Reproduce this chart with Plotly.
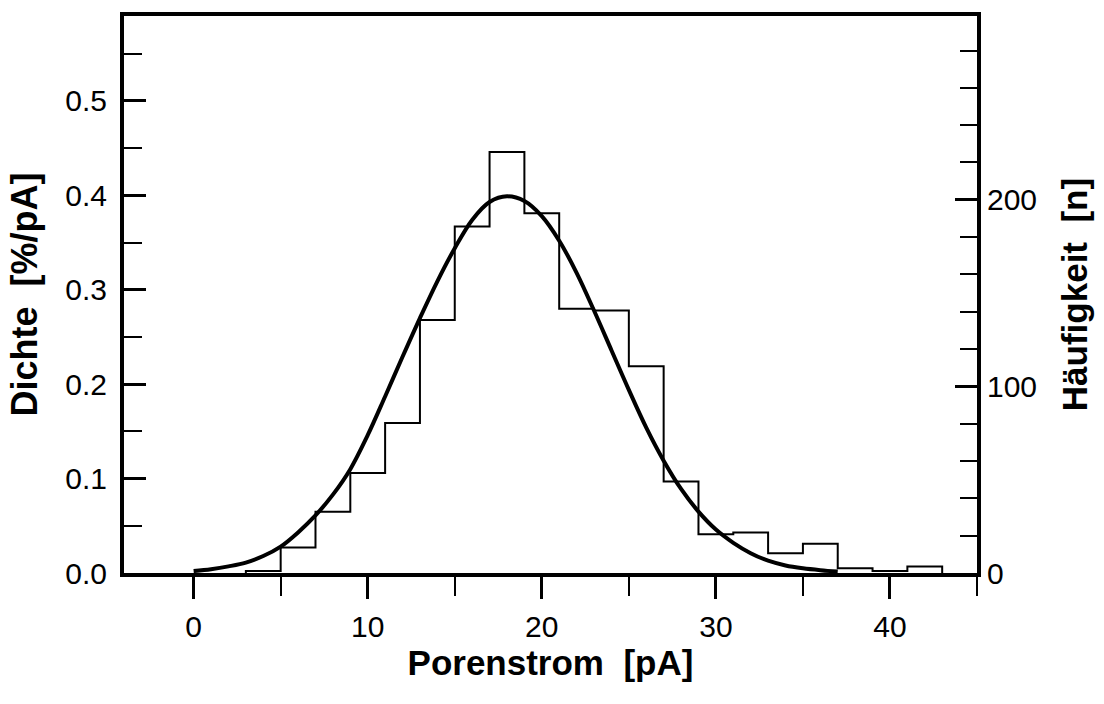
import plotly.graph_objects as go

# Histogram (density, %/pA), bins of width 2 pA
bin_edges = [3, 5, 7, 9, 11, 13, 15, 17, 19, 21, 23, 25, 27, 29, 31, 33, 35, 37, 39, 41, 43]
bin_density = [0.002, 0.027, 0.065, 0.106, 0.159, 0.268, 0.367, 0.446, 0.381, 0.280,
               0.278, 0.219, 0.097, 0.041, 0.043, 0.021, 0.031, 0.005, 0.002, 0.007]

# Fitted density curve
curve_x = [0, 1, 2, 3, 4, 5, 6, 7, 8, 9, 10, 11, 12, 13, 14, 15, 16, 17, 18, 19,
           20, 21, 22, 23, 24, 25, 26, 27, 28, 29, 30, 31, 32, 33, 34, 35, 36, 37]
curve_y = [0.002, 0.004, 0.007, 0.011, 0.018, 0.028, 0.043, 0.061, 0.083, 0.110,
           0.146, 0.187, 0.229, 0.270, 0.309, 0.344, 0.374, 0.393, 0.399, 0.394,
           0.378, 0.352, 0.318, 0.278, 0.236, 0.194, 0.154, 0.119, 0.089, 0.065,
           0.046, 0.032, 0.021, 0.013, 0.008, 0.005, 0.003, 0.0015]

x_ticks = [0, 10, 20, 30, 40]
y_ticks = [0.0, 0.1, 0.2, 0.3, 0.4, 0.5]
y2_ticks = [0, 100, 200]

# step outline
step_x = [bin_edges[0]] + bin_edges
step_y = [0] + bin_density + [0]

FONT = "Arial, Liberation Sans, sans-serif"

fig = go.Figure()
fig.add_trace(go.Scatter(x=step_x, y=step_y, mode="lines", line=dict(shape="hv", color="black", width=2),
                         showlegend=False, hoverinfo="skip"))
fig.add_trace(go.Scatter(x=curve_x, y=curve_y, mode="lines",
                         line=dict(shape="spline", smoothing=1.0, color="black", width=4),
                         showlegend=False, hoverinfo="skip"))
# empty trace so the right-hand count axis is drawn
fig.add_trace(go.Scatter(x=[None], y=[None], yaxis="y2", mode="lines", showlegend=False, hoverinfo="skip"))

fig.update_layout(
    width=1104, height=704,
    margin=dict(l=124, r=127, t=13, b=131),
    paper_bgcolor="white", plot_bgcolor="white",
    font=dict(family=FONT, color="black", size=30),
    xaxis=dict(
        range=[-4, 45], tickvals=x_ticks, ticks="outside", ticklen=22, tickwidth=3,
        tickcolor="black", showline=True, linewidth=4, linecolor="black", mirror=True,
        showgrid=False, zeroline=False, ticklabelstandoff=2,
        minor=dict(dtick=5, tick0=0, ticks="outside", ticklen=19, tickwidth=2, tickcolor="black"),
        title=dict(text="<b>Porenstrom  [pA]</b>", font=dict(size=35), standoff=8),
    ),
    yaxis=dict(
        range=[0, 0.59], tickvals=y_ticks, tickformat=".1f", ticks="inside", ticklen=22, tickwidth=3,
        tickcolor="black", showline=True, linewidth=4, linecolor="black",
        showgrid=False, zeroline=False, ticklabelstandoff=7,
        minor=dict(dtick=0.05, tick0=0, ticks="inside", ticklen=18, tickwidth=2, tickcolor="black"),
        title=dict(text="<b>Dichte  [%/pA]</b>", font=dict(size=36), standoff=18),
    ),
    yaxis2=dict(
        range=[0, 298.5], tickvals=y2_ticks, overlaying="y", side="right", anchor="x",
        ticks="inside", ticklen=22, tickwidth=3, tickcolor="black",
        showline=True, linewidth=4, linecolor="black", showgrid=False, zeroline=False,
        ticklabelstandoff=0,
        minor=dict(dtick=20, tick0=0, ticks="inside", ticklen=17, tickwidth=2, tickcolor="black"),
        title=dict(text="<b>Häufigkeit  [n]</b>", font=dict(size=35), standoff=27),
    ),
)

fig.write_html("out.html")
